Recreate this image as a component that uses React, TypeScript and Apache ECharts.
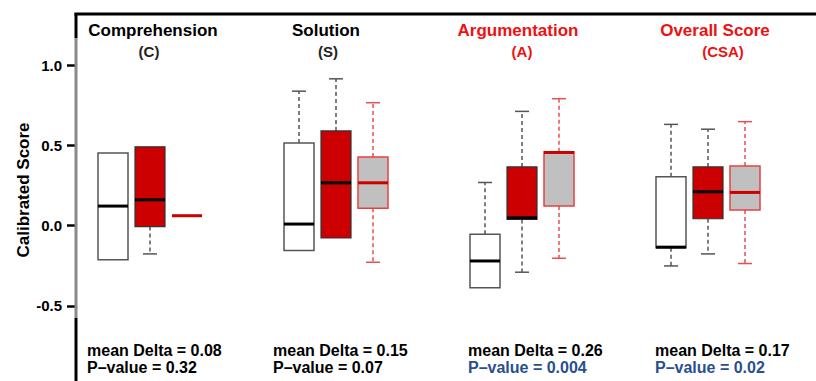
import React, { useEffect, useRef } from "react";
import * as echarts from "echarts";

const categories = ["Comprehension", "Solution", "Argumentation", "Overall Score"];
const abbreviations = ["(C)", "(S)", "(A)", "(CSA)"];
const titleRed = [false, false, true, true];

// [low whisker, Q1, median, Q3, high whisker]
const whiteBoxes = [
  [-0.214, -0.214, 0.121, 0.452, 0.452],
  [-0.156, -0.156, 0.009, 0.514, 0.837],
  [-0.388, -0.388, -0.221, -0.055, 0.268],
  [-0.252, -0.138, -0.135, 0.303, 0.63],
];
const redBoxes = [
  [-0.177, -0.007, 0.16, 0.49, 0.49],
  [-0.078, -0.078, 0.266, 0.589, 0.914],
  [-0.291, 0.038, 0.048, 0.365, 0.711],
  [-0.177, 0.042, 0.21, 0.365, 0.6],
];
const greyBoxes = [
  [0.061, 0.061, 0.061, 0.061, 0.061],
  [-0.229, 0.107, 0.266, 0.427, 0.765],
  [-0.204, 0.121, 0.455, 0.459, 0.79],
  [-0.237, 0.096, 0.206, 0.371, 0.647],
];

const meanDelta = ["0.08", "0.15", "0.26", "0.17"];
const pValues = ["0.32", "0.07", "0.004", "0.02"];
const pSignificant = [false, false, true, true];

const yTicks = [-0.5, 0, 0.5, 1.0];

const FONT = "Liberation Sans, Arial, sans-serif";

type BoxStyle = {
  offset: number;
  fill: string;
  stroke: string;
  strokeWidth: number;
  median: string;
  whisker: string;
};

function makeRender(s: BoxStyle) {
  return (params: any, api: any) => {
    const cat = api.value(0);
    const vals = [1, 2, 3, 4, 5].map((d) => api.coord([cat, api.value(d)]));
    const x = vals[0][0] + s.offset;
    const yLow = vals[0][1];
    const yQ1 = vals[1][1];
    const yMed = vals[2][1];
    const yQ3 = vals[3][1];
    const yHigh = vals[4][1];
    const hw = 15;
    const cap = 7;
    const children: any[] = [];
    const dash = { stroke: s.whisker, lineWidth: 1.5, lineDash: [4, 3] };
    const capStyle = { stroke: s.whisker, lineWidth: 1.5 };
    if (yHigh < yQ3 - 0.5) {
      children.push({ type: "line", shape: { x1: x, y1: yQ3, x2: x, y2: yHigh }, style: dash });
      children.push({ type: "line", shape: { x1: x - cap, y1: yHigh, x2: x + cap, y2: yHigh }, style: capStyle });
    }
    if (yLow > yQ1 + 0.5) {
      children.push({ type: "line", shape: { x1: x, y1: yQ1, x2: x, y2: yLow }, style: dash });
      children.push({ type: "line", shape: { x1: x - cap, y1: yLow, x2: x + cap, y2: yLow }, style: capStyle });
    }
    if (yQ1 - yQ3 > 0.5) {
      children.push({
        type: "rect",
        shape: { x: x - hw, y: yQ3, width: hw * 2, height: yQ1 - yQ3 },
        style: { fill: s.fill, stroke: s.stroke, lineWidth: s.strokeWidth },
      });
    }
    children.push({
      type: "line",
      shape: { x1: x - hw, y1: yMed, x2: x + hw, y2: yMed },
      style: { stroke: s.median, lineWidth: 3 },
    });
    return { type: "group", children };
  };
}

const styles: BoxStyle[] = [
  { offset: -37, fill: "#ffffff", stroke: "#555555", strokeWidth: 1.5, median: "#000000", whisker: "#555555" },
  { offset: 0, fill: "#cc0000", stroke: "#333333", strokeWidth: 1.2, median: "#000000", whisker: "#555555" },
  { offset: 37, fill: "#c0c0c0", stroke: "#e84040", strokeWidth: 1.5, median: "#cc0000", whisker: "#e85050" },
];
const boxSets = [whiteBoxes, redBoxes, greyBoxes];

const titleX = [153, 326, 518, 715];
const abbrX = [149, 328, 522, 723];
const textX = [87, 273, 468, 655];

export default function App() {
  const ref = useRef<HTMLDivElement>(null);
  useEffect(() => {
    if (!ref.current) return;
    const chart = echarts.init(ref.current, null, { renderer: "svg" });
    const graphics: any[] = [
      { type: "line", z: 10, shape: { x1: 74.5, y1: 14, x2: 816, y2: 14 }, style: { stroke: "#000", lineWidth: 3 } },
      { type: "line", z: 10, shape: { x1: 76, y1: 13, x2: 76, y2: 38 }, style: { stroke: "#000", lineWidth: 3 } },
      { type: "line", z: 10, shape: { x1: 76, y1: 38, x2: 76, y2: 318 }, style: { stroke: "#8a8a8a", lineWidth: 3 } },
      { type: "line", z: 10, shape: { x1: 76, y1: 318, x2: 76, y2: 381 }, style: { stroke: "#000", lineWidth: 3 } },
      {
        type: "text",
        x: 23,
        y: 190,
        rotation: Math.PI / 2,
        style: { text: "Calibrated Score", font: `bold 17px ${FONT}`, fill: "#000", align: "center", verticalAlign: "middle" },
      },
    ];
    categories.forEach((c, i) => {
      const col = titleRed[i] ? "#ee1111" : "#000000";
      graphics.push({
        type: "text",
        x: titleX[i],
        y: 30,
        style: { text: c, font: `bold 17px ${FONT}`, fill: col, align: "center", verticalAlign: "middle" },
      });
      graphics.push({
        type: "text",
        x: abbrX[i],
        y: 51,
        style: { text: abbreviations[i], font: `bold 15px ${FONT}`, fill: titleRed[i] ? "#ee1111" : "#222", align: "center", verticalAlign: "middle" },
      });
      graphics.push({
        type: "text",
        x: textX[i],
        y: 350,
        style: { text: `mean Delta = ${meanDelta[i]}`, font: `bold 16px ${FONT}`, fill: "#000", align: "left", verticalAlign: "middle" },
      });
      graphics.push({
        type: "text",
        x: textX[i],
        y: 367,
        style: {
          text: `P\u2013value = ${pValues[i]}`,
          font: `bold 16px ${FONT}`,
          fill: pSignificant[i] ? "#2a4f8f" : "#000",
          align: "left",
          verticalAlign: "middle",
        },
      });
    });

    chart.setOption({
      animation: false,
      grid: { left: 57, right: 15, top: 65, bottom: 75.25 },
      xAxis: { type: "category", data: categories, show: false },
      yAxis: {
        type: "value",
        min: -0.5,
        max: 1.0,
        interval: 0.5,
        offset: -19,
        axisLine: { show: false },
        axisTick: { show: true, length: 9, lineStyle: { color: "#000", width: 2.5 } },
        axisLabel: {
          color: "#000",
          fontSize: 15,
          fontWeight: "bold",
          fontFamily: FONT,
          margin: 14,
          formatter: (v: number) => (yTicks.includes(v) ? v.toFixed(1) : ""),
        },
        splitLine: { show: false },
      },
      graphic: graphics,
      series: boxSets.map((set, si) => ({
        type: "custom",
        renderItem: makeRender(styles[si]),
        encode: { x: 0, y: [1, 2, 3, 4, 5] },
        data: set.map((v, i) => [i, ...v]),
        clip: false,
      })),
    });
    return () => chart.dispose();
  }, []);
  return <div ref={ref} style={{ position: "fixed", left: 0, top: 0, width: 816, height: 381, background: "#fff" }} />;
}
